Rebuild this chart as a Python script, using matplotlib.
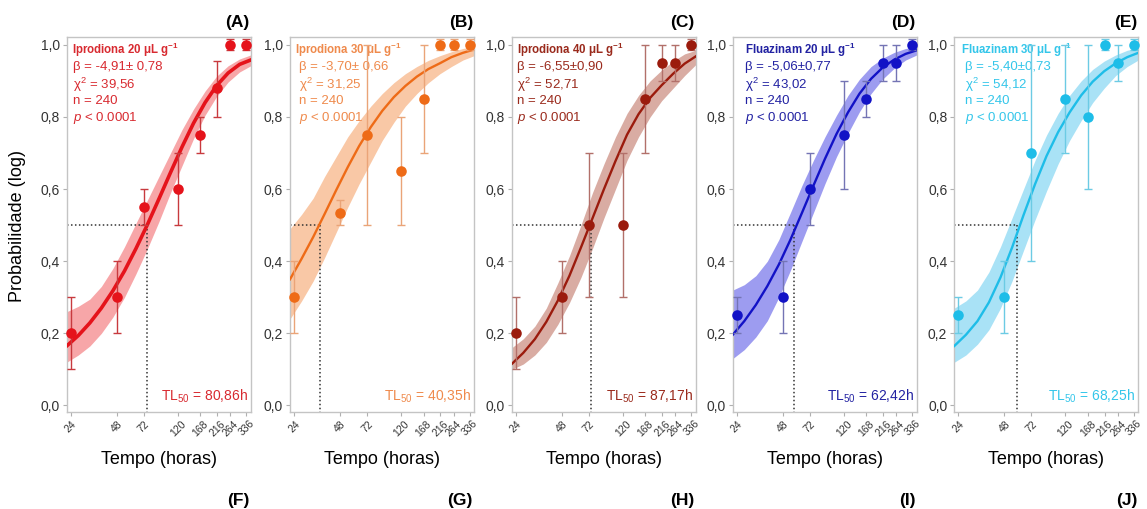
import matplotlib
matplotlib.use("Agg")
import matplotlib.pyplot as plt

plt.rcParams['font.family'] = ['Liberation Sans', 'DejaVu Sans']
plt.rcParams['mathtext.fontset'] = 'custom'
plt.rcParams['mathtext.rm'] = 'Liberation Sans'
plt.rcParams['mathtext.it'] = 'Liberation Sans:italic'
plt.rcParams['mathtext.bf'] = 'Liberation Sans:bold'

# ---------------- data ----------------
hours = [24, 48, 72, 120, 168, 216, 264, 336]
hour_labels = ["24", "48", "72", "120", "168", "216", "264", "336"]
y_ticks = [0.0, 0.2, 0.4, 0.6, 0.8, 1.0]
y_tick_labels = ["0,0", "0,2", "0,4", "0,6", "0,8", "1,0"]

prob_A = [0.20, 0.30, 0.55, 0.60, 0.75, 0.88, 1.00, 1.00]
low_A = [0.10, 0.20, 0.50, 0.50, 0.70, 0.80, 0.985, 0.985]
high_A = [0.30, 0.40, 0.60, 0.70, 0.80, 0.955, 1.015, 1.015]

prob_B = [0.30, 0.535, 0.75, 0.65, 0.85, 1.00, 1.00, 1.00]
low_B = [0.20, 0.50, 0.50, 0.50, 0.70, 0.985, 0.985, 0.985]
high_B = [0.40, 0.57, 1.00, 0.80, 1.00, 1.015, 1.015, 1.015]

prob_C = [0.20, 0.30, 0.50, 0.50, 0.85, 0.95, 0.95, 1.00]
low_C = [0.10, 0.20, 0.30, 0.30, 0.70, 0.90, 0.90, 0.985]
high_C = [0.30, 0.40, 0.70, 0.70, 1.00, 1.00, 1.00, 1.015]

prob_D = [0.25, 0.30, 0.60, 0.75, 0.85, 0.95, 0.95, 1.00]
low_D = [0.20, 0.20, 0.50, 0.60, 0.80, 0.90, 0.90, 0.985]
high_D = [0.30, 0.40, 0.70, 0.90, 0.90, 1.00, 1.00, 1.015]

prob_E = [0.25, 0.30, 0.70, 0.85, 0.80, 1.00, 0.95, 1.00]
low_E = [0.20, 0.20, 0.40, 0.70, 0.60, 0.985, 0.90, 0.985]
high_E = [0.30, 0.40, 1.00, 1.00, 1.00, 1.015, 1.00, 1.015]

# fitted curves and confidence bands
curve_hours = [22.6, 26.9, 32.0, 38.0, 45.2, 53.8, 63.9, 76.0, 90.3, 107.4,
               127.7, 151.8, 180.5, 214.6, 255.1, 303.3, 358.0]

fit_A = [0.165, 0.194, 0.229, 0.270, 0.318, 0.373, 0.435, 0.502, 0.573, 0.646,
         0.717, 0.783, 0.840, 0.887, 0.922, 0.946, 0.958]
band_lo_A = [0.12, 0.14, 0.165, 0.20, 0.245, 0.30, 0.365, 0.435, 0.51, 0.59,
             0.665, 0.74, 0.805, 0.857, 0.897, 0.925, 0.942]
band_hi_A = [0.26, 0.275, 0.295, 0.33, 0.38, 0.44, 0.505, 0.57, 0.635, 0.70,
             0.765, 0.822, 0.872, 0.913, 0.942, 0.961, 0.972]

fit_B = [0.35, 0.407, 0.467, 0.531, 0.597, 0.661, 0.720, 0.772, 0.817, 0.855,
         0.886, 0.912, 0.933, 0.949, 0.966, 0.978, 0.987]
band_lo_B = [0.24, 0.29, 0.345, 0.41, 0.48, 0.55, 0.615, 0.675, 0.735, 0.785,
             0.83, 0.865, 0.895, 0.92, 0.94, 0.958, 0.97]
band_hi_B = [0.49, 0.53, 0.575, 0.635, 0.69, 0.745, 0.79, 0.83, 0.865, 0.895,
             0.92, 0.94, 0.957, 0.97, 0.981, 0.99, 0.996]

fit_C = [0.115, 0.146, 0.184, 0.232, 0.291, 0.360, 0.438, 0.519, 0.600, 0.678,
         0.751, 0.808, 0.853, 0.888, 0.920, 0.948, 0.968]
band_lo_C = [0.10, 0.115, 0.14, 0.175, 0.225, 0.285, 0.355, 0.435, 0.52, 0.60,
             0.68, 0.745, 0.80, 0.845, 0.88, 0.915, 0.945]
band_hi_C = [0.16, 0.185, 0.22, 0.27, 0.34, 0.415, 0.50, 0.59, 0.67, 0.745,
             0.81, 0.86, 0.90, 0.93, 0.955, 0.975, 0.985]

fit_D = [0.196, 0.234, 0.279, 0.331, 0.391, 0.460, 0.534, 0.610, 0.684, 0.753,
         0.813, 0.865, 0.906, 0.937, 0.959, 0.975, 0.985]
band_lo_D = [0.13, 0.155, 0.19, 0.235, 0.30, 0.375, 0.455, 0.535, 0.615, 0.69,
             0.755, 0.815, 0.865, 0.905, 0.935, 0.958, 0.972]
band_hi_D = [0.32, 0.335, 0.36, 0.40, 0.46, 0.535, 0.61, 0.68, 0.745, 0.805,
             0.86, 0.905, 0.94, 0.963, 0.979, 0.99, 0.995]

fit_E = [0.165, 0.196, 0.234, 0.286, 0.355, 0.438, 0.528, 0.614, 0.692, 0.758,
         0.813, 0.860, 0.898, 0.927, 0.949, 0.966, 0.978]
band_lo_E = [0.12, 0.14, 0.17, 0.21, 0.27, 0.345, 0.43, 0.515, 0.595, 0.67,
             0.735, 0.79, 0.84, 0.88, 0.915, 0.94, 0.958]
band_hi_E = [0.27, 0.29, 0.32, 0.37, 0.44, 0.52, 0.60, 0.68, 0.75, 0.81,
             0.86, 0.90, 0.932, 0.955, 0.972, 0.985, 0.992]

tl50_line = [75.4, 35.5, 74.5, 56.5, 58.3]

treatments = ["Iprodiona 20 μL g", "Iprodiona 30 μL g", "Iprodiona 40 μL g",
              "Fluazinam 20 μL g", "Fluazinam 30 μL g"]
betas = ["-4,91± 0,78", "-3,70± 0,66", "-6,55±0,90", "-5,06±0,77", "-5,40±0,73"]
chi2 = ["39,56", "31,25", "52,71", "43,02", "54,12"]
n_obs = ["240", "240", "240", "240", "240"]
tl50_text = ["80,86h", "40,35h", "87,17h", "62,42h", "68,25h"]
top_letters = ["(A)", "(B)", "(C)", "(D)", "(E)"]
bottom_letters = ["(F)", "(G)", "(H)", "(I)", "(J)"]

# ---------------- style ----------------
line_colors = ["#e5131b", "#ee6b17", "#9b1b0d", "#1212c6", "#1ebde8"]
band_colors = ["#f7a6a8", "#f9c8a6", "#d9aca3", "#9d9cf0", "#a9e2f6"]
err_colors = ["#c83a3e", "#eaa478", "#b2706a", "#7474b4", "#6ccbe4"]
text_colors = ["#d82a30", "#ef8a4c", "#9a2a1c", "#2222a2", "#34c6ea"]
line_widths = [2.6, 1.7, 1.7, 1.7, 1.7]
title_dx = [5, 5, 5, 12, 7]
body_dx = [6.5, 9, 5, 12, 11]

probs = [prob_A, prob_B, prob_C, prob_D, prob_E]
lows = [low_A, low_B, low_C, low_D, low_E]
highs = [high_A, high_B, high_C, high_D, high_E]
fits = [fit_A, fit_B, fit_C, fit_D, fit_E]
blo = [band_lo_A, band_lo_B, band_lo_C, band_lo_D, band_lo_E]
bhi = [band_hi_A, band_hi_B, band_hi_C, band_hi_D, band_hi_E]

W, H = 1147, 509
fig = plt.figure(figsize=(W / 100, H / 100), dpi=100)

lefts = [66.7, 290, 511.7, 732.7, 954.3]
ax_w = 184
ax_top, ax_bot = 37.3, 411.7
XMIN, XMAX = 22.6, 358
YMIN, YMAX = -0.0172, 1.021

for i in range(5):
    ax = fig.add_axes([lefts[i] / W, 1 - ax_bot / H, ax_w / W, (ax_bot - ax_top) / H])
    ax.set_xscale('log')
    ax.set_xlim(XMIN, XMAX)
    ax.set_ylim(YMIN, YMAX)
    ax.fill_between(curve_hours, blo[i], bhi[i], color=band_colors[i], lw=0, zorder=1)
    ax.plot(curve_hours, fits[i], color=line_colors[i], lw=line_widths[i], zorder=3,
            solid_joinstyle='round')
    yerr = [[p - l for p, l in zip(probs[i], lows[i])],
            [h - p for p, h in zip(probs[i], highs[i])]]
    ax.errorbar(hours, probs[i], yerr=yerr, fmt='none', ecolor=err_colors[i],
                elinewidth=1.0, capsize=3.2, capthick=1.0, zorder=4, clip_on=False)
    ax.plot(hours, probs[i], 'o', color=line_colors[i], ms=7.6, mew=0, zorder=5,
            clip_on=False)
    # TL50 dotted guides
    ax.plot([XMIN, tl50_line[i]], [0.5, 0.5], color='#333333', lw=1.1,
            ls=(0, (1, 1.6)), zorder=2)
    ax.plot([tl50_line[i], tl50_line[i]], [0.5, YMIN], color='#333333', lw=1.1,
            ls=(0, (1, 1.6)), zorder=2)

    ax.set_xticks(hours)
    ax.set_xticklabels(hour_labels, rotation=45, fontsize=7.5, color='#333333')
    ax.xaxis.set_minor_locator(matplotlib.ticker.NullLocator())
    ax.set_yticks(y_ticks)
    ax.set_yticklabels(y_tick_labels, fontsize=10, color='#333333')
    ax.tick_params(axis='both', direction='out', length=3, width=0.8, color='#b0b0b0',
                   pad=2)
    for sp in ax.spines.values():
        sp.set_color('#c4c4c4')
        sp.set_linewidth(1.0)
    for lab in ax.get_xticklabels():
        lab.set_ha('center')
        lab.set_va('top')

    ax.set_xlabel("Tempo (horas)", fontsize=13, labelpad=9)

    hpx = ax_bot - ax_top

    def yfrac(ypix):
        return (ax_bot - ypix) / hpx

    c = text_colors[i]
    ax.text(title_dx[i] / ax_w, yfrac(50), treatments[i] + r"$^{\mathbf{-1}}$",
            transform=ax.transAxes, fontsize=8.3, fontweight='bold', color=c,
            ha='left', va='center')
    ax.text(body_dx[i] / ax_w, yfrac(67), "β = " + betas[i], transform=ax.transAxes,
            fontsize=9.5, color=c, ha='left', va='center')
    ax.text(body_dx[i] / ax_w, yfrac(85), r"χ$^2$ = " + chi2[i], transform=ax.transAxes,
            fontsize=9.5, color=c, ha='left', va='center')
    ax.text(body_dx[i] / ax_w, yfrac(101.5), "n = " + n_obs[i], transform=ax.transAxes,
            fontsize=9.5, color=c, ha='left', va='center')
    ax.text(body_dx[i] / ax_w, yfrac(118), r"$p$ < 0.0001", transform=ax.transAxes,
            fontsize=9.5, color=c, ha='left', va='center')
    ax.text(1 - 3 / ax_w, yfrac(396.5), r"TL$_{50}$ = " + tl50_text[i],
            transform=ax.transAxes, fontsize=10, color=c, ha='right', va='center')

    fig.text((lefts[i] + ax_w - 1) / W, 1 - 22.5 / H, top_letters[i], fontsize=12.5,
             fontweight='bold', ha='right', va='center')
    fig.text((lefts[i] + ax_w - 1) / W, 1 - 501 / H, bottom_letters[i], fontsize=12.5,
             fontweight='bold', ha='right', va='center')

fig.text(18 / W, 1 - 226 / H, "Probabilidade (log)", rotation=90, fontsize=13,
         ha='center', va='center')

fig.savefig("out.png", dpi=100, facecolor='white')
